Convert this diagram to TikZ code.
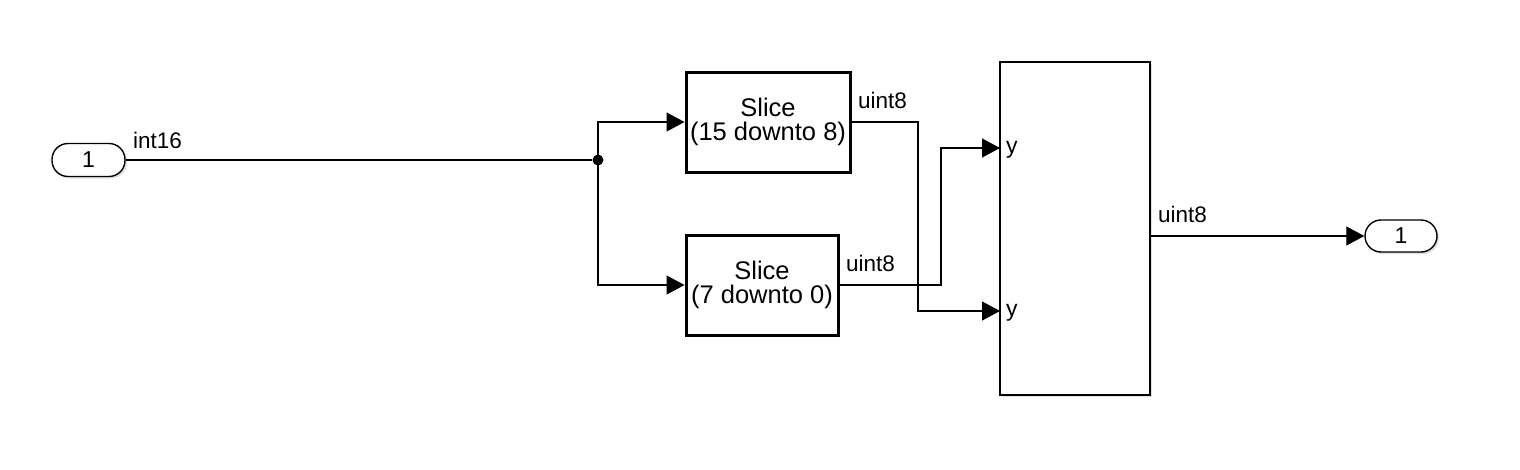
\documentclass[tikz,border=0pt]{standalone}
\usepackage{fontspec}
\setmainfont{Liberation Sans}
\usetikzlibrary{arrows.meta,shadows}
\begin{document}
\begin{tikzpicture}[x=1pt,y=-1pt,
  wire/.style={line width=1.2pt},
  arr/.style={wire,-{Triangle[length=18pt,width=19pt]}},
  shad/.style={drop shadow={shadow xshift=2pt,shadow yshift=-2pt,opacity=0.25,fill=gray}},
  port/.style={draw,line width=1.4pt,rounded corners=16pt,fill=white,shad,inner sep=0pt,font=\fontsize{23}{23}\selectfont},
  slicebox/.style={draw,line width=3pt,fill=white,shad,inner sep=0pt,align=center,font=\fontsize{25.5}{23.5}\selectfont},
  bigbox/.style={draw,line width=1.8pt,fill=white,shad,inner sep=0pt},
  lbl/.style={inner sep=0pt,font=\fontsize{22.5}{22.5}\selectfont},
  dot/.style={circle,fill=black,inner sep=0pt,minimum size=11pt}]
\useasboundingbox (0,0) rectangle (1520,469);

\node[port,minimum width=73pt,minimum height=33pt] (in1) at (88.5,160) {1};
\node[port,minimum width=72pt,minimum height=32pt] (out1) at (1401,236) {1};
\node[slicebox,minimum width=164pt,minimum height=100pt] (s1) at (768,122) {Slice\\(15 downto 8)};
\node[slicebox,minimum width=152pt,minimum height=100pt] (s2) at (762,285) {Slice\\(7 downto 0)};
\node[bigbox,minimum width=150pt,minimum height=333pt] (big) at (1075,228.5) {};

\coordinate (big1) at (1000,148);
\coordinate (big2) at (1000,311);
\coordinate (bigo) at (1150,236);
\coordinate (b1) at (918,122);
\coordinate (b2) at (941,285);

\node[dot] (j) at (598,160) {};

\draw[wire] (in1.east) -- (j);
\draw[arr] (j.center) |- (s1.west);
\draw[arr] (j.center) |- (s2.west);
\draw[arr] (s1.east |- b1) -- (b1) |- (big2);
\draw[arr] (s2.east |- b2) -- (b2) |- (big1);
\draw[arr] (bigo) -- (out1.west);

\node[lbl,anchor=base west] (l1) at (133,148) {int16};
\node[lbl,anchor=base west] (l2) at (858,108) {uint8};
\node[lbl,anchor=base west] (l3) at (846,271) {uint8};
\node[lbl,anchor=base west] (l4) at (1158,222) {uint8};
\node[lbl,anchor=west,font=\fontsize{23}{23}\selectfont] (y1) at (1006,150) {y};
\node[lbl,anchor=west,font=\fontsize{23}{23}\selectfont] (y2) at (1006,313) {y};
\end{tikzpicture}
\end{document}
